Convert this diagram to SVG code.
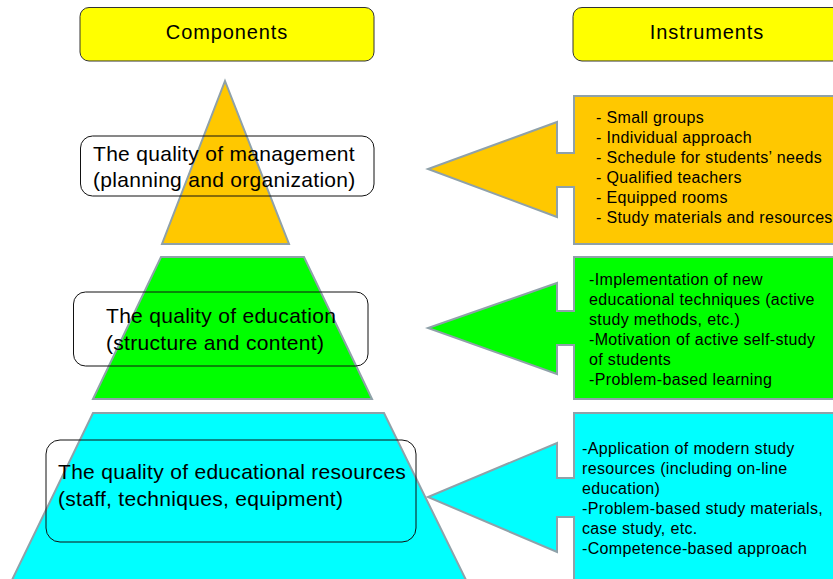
<svg xmlns="http://www.w3.org/2000/svg" width="833" height="579" viewBox="0 0 833 579">
<style>
.hdr{fill:#ffff00;stroke:#333;stroke-width:1}
.shape{stroke:#8fa1a9;stroke-width:2;stroke-linejoin:miter}
.lbl{fill:none;stroke:#111;stroke-width:1}
.t{font-family:"Liberation Sans",Arial,sans-serif;fill:#000}
.big{font-size:21px;letter-spacing:0.3px}
.hd{font-size:20px;letter-spacing:0.9px}
.lst{font-size:16px;letter-spacing:0.35px}
</style>
<rect width="833" height="579" fill="#fff"/>
<g id="components">
<rect class="hdr" x="80" y="7.5" width="294" height="53.5" rx="9"/>
<text class="t hd" x="227" y="38.5" text-anchor="middle">Components</text>
</g>
<g id="instruments">
<rect class="hdr" x="573" y="7.5" width="280" height="53.5" rx="9"/>
<text class="t hd" x="707" y="38.5" text-anchor="middle">Instruments</text>
</g>
<g id="tier-management">
<polygon class="shape" fill="#ffc800" points="225,81 289,244 162,244"/>
<rect class="lbl" x="80.5" y="136" width="293.5" height="60" rx="12"/>
<text class="t big" x="93" y="160.5">The quality of management</text>
<text class="t big" x="93" y="187">(planning and organization)</text>
</g>
<g id="tier-education">
<polygon class="shape" fill="#00ff00" points="161,257 304,257 372,399 93,399"/>
<rect class="lbl" x="73.5" y="292" width="294.5" height="74" rx="12"/>
<text class="t big" x="106" y="323">The quality of education</text>
<text class="t big" x="106" y="349.5">(structure and content)</text>
</g>
<g id="tier-resources">
<polygon class="shape" fill="#00ffff" points="93,413 384,413 466,580 12,580"/>
<rect class="lbl" x="46" y="440" width="370" height="102" rx="14"/>
<text class="t big" x="58" y="479">The quality of educational resources</text>
<text class="t big" x="58" y="506">(staff, techniques, equipment)</text>
</g>
<g id="connectors">
<g id="arrow-management">
<polygon class="shape" fill="#ffc800" points="574,96 845,96 845,244 574,244 574,187 557,187 557,217 428,169 557,122 557,153 574,153"/>
<g class="t lst">
<text x="596" y="123">- Small groups</text>
<text x="596" y="143">- Individual approach</text>
<text x="596" y="163">- Schedule for students’ needs</text>
<text x="596" y="183">- Qualified teachers</text>
<text x="596" y="203">- Equipped rooms</text>
<text x="596" y="223">- Study materials and resources</text>
</g>
</g>
<g id="arrow-education">
<polygon class="shape" fill="#00ff00" points="574,257 845,257 845,399 574,399 574,345 557,345 557,374 428,328 557,283 557,311 574,311"/>
<g class="t lst">
<text x="589" y="285">-Implementation of new</text>
<text x="589" y="305">educational techniques (active</text>
<text x="589" y="325">study methods, etc.)</text>
<text x="589" y="345">-Motivation of active self-study</text>
<text x="589" y="365">of students</text>
<text x="589" y="385">-Problem-based learning</text>
</g>
</g>
<g id="arrow-resources">
<polygon class="shape" fill="#00ffff" points="574,413 845,413 845,590 574,590 574,517 557,517 557,552 428,497 557,443 557,478 574,478"/>
<g class="t lst">
<text x="582" y="454">-Application of modern study</text>
<text x="582" y="474">resources (including on-line</text>
<text x="582" y="494">education)</text>
<text x="582" y="514">-Problem-based study materials,</text>
<text x="582" y="534">case study, etc.</text>
<text x="582" y="554">-Competence-based approach</text>
</g>
</g>
</g>
</svg>
